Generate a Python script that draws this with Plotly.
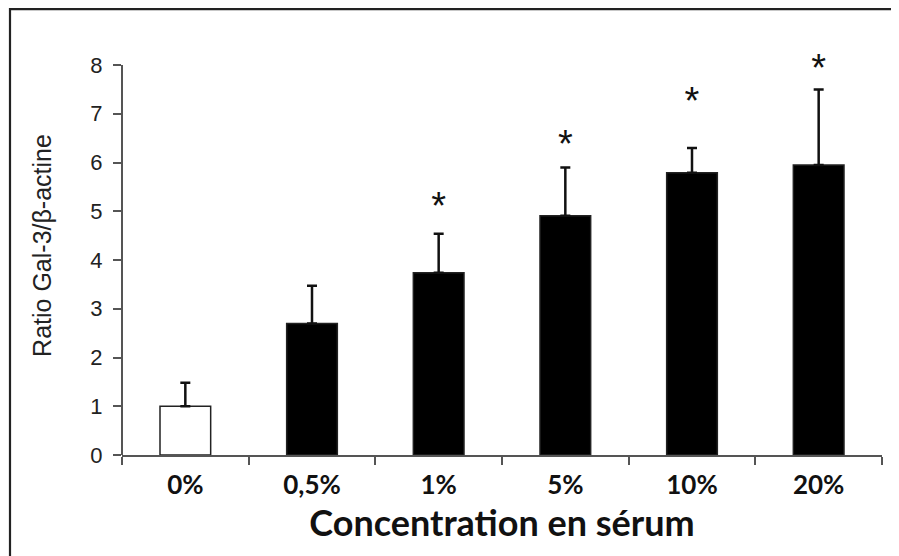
import plotly.graph_objects as go

categories = ["0%", "0,5%", "1%", "5%", "10%", "20%"]
ratios = [1.00, 2.70, 3.74, 4.91, 5.79, 5.95]
errors = [0.48, 0.77, 0.80, 0.99, 0.51, 1.55]
bar_colors = ["white", "black", "black", "black", "black", "black"]
star_categories = ["1%", "5%", "10%", "20%"]
star_heights = [5.23, 6.50, 7.38, 8.06]
y_ticks = [0, 1, 2, 3, 4, 5, 6, 7, 8]

# page has an 8px body margin; figure sized to fit the window
W, H = 891, 548
L, R, T, B = 114, 17, 28, 101
AXIS_TOP_PX = 57          # where the value 8 sits (figure px)
YMAX_AXIS = 8
ymax = YMAX_AXIS * (H - B - T) / (H - B - AXIS_TOP_PX)

fig = go.Figure()
fig.add_trace(go.Bar(
    x=categories, y=ratios,
    marker=dict(color=bar_colors, line=dict(color="#222222", width=1.5)),
    error_y=dict(type="data", symmetric=False, array=errors,
                 arrayminus=[0] * len(errors),
                 color="#111111", thickness=2.5, width=5),
    width=0.4,
))

glyph_offset = 0.2  # asterisk glyph sits above its text-box centre
fig.add_trace(go.Scatter(
    x=star_categories, y=[h - glyph_offset for h in star_heights],
    mode="text", text=["*"] * len(star_categories),
    textposition="middle center", cliponaxis=False, hoverinfo="skip",
    textfont=dict(family="Liberation Sans, Arial", size=38, color="#111111"),
))

pw = W - L - R
ph = H - T - B
fx = lambda px: (px - L) / pw
fy = lambda py: (H - B - py) / ph
# outer frame (left and top edges visible)
fig.add_shape(type="line", xref="paper", yref="paper",
              x0=fx(2), x1=fx(2), y0=fy(0), y1=fy(H + 20),
              line=dict(color="#222222", width=2.2))
fig.add_shape(type="line", xref="paper", yref="paper",
              x0=fx(1), x1=fx(W + 20), y0=fy(1.2), y1=fy(1.2),
              line=dict(color="#222222", width=2.2))
# y axis line, only up to the last tick
fig.add_shape(type="line", xref="paper", yref="y",
              x0=0, x1=0, y0=0, y1=YMAX_AXIS,
              line=dict(color="#555555", width=2))

fig.update_layout(
    width=W, height=H,
    margin=dict(l=L, r=R, t=T, b=B, pad=0),
    plot_bgcolor="white", paper_bgcolor="white",
    showlegend=False,
    bargap=0.6,
    xaxis=dict(
        type="category", tickson="boundaries",
        ticks="outside", ticklen=8, tickwidth=1.5, tickcolor="#555555",
        showline=True, linecolor="#555555", linewidth=2,
        showgrid=False, zeroline=False, ticklabelstandoff=6,
        tickfont=dict(family="Lato", size=26, color="#111111", weight="bold"),
        title=dict(text="Concentration en sérum", standoff=10,
                   font=dict(family="Lato", size=36, color="#111111", weight="bold")),
    ),
    yaxis=dict(
        range=[0, ymax], tickvals=y_ticks,
        ticks="outside", ticklen=8, tickwidth=1.5, tickcolor="#555555",
        showline=False,
        showgrid=False, zeroline=False, ticklabelstandoff=6,
        tickfont=dict(family="Liberation Sans, Arial", size=22, color="#222222"),
        title=dict(text="Ratio Gal-3/β-actine", standoff=31,
                   font=dict(family="Liberation Sans, Arial", size=25, color="#222222")),
    ),
)

fig.write_html("out.html")
